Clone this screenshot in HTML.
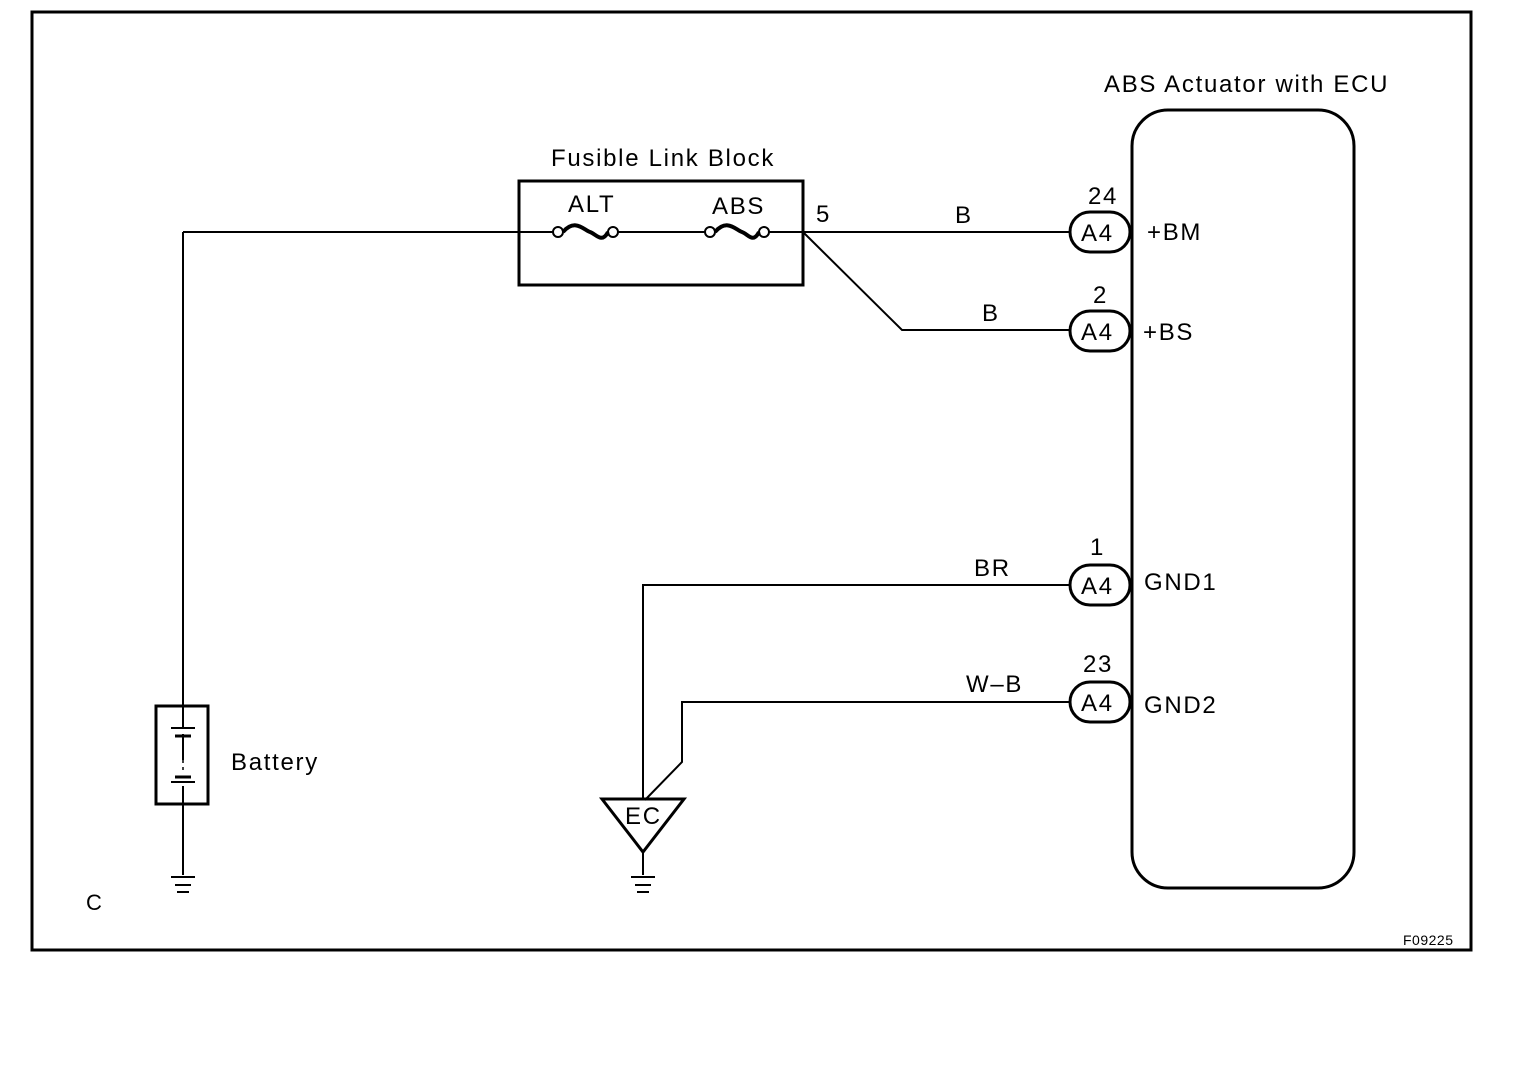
<!DOCTYPE html>
<html><head><style>
html,body{margin:0;padding:0;background:#fff;}
svg{display:block;}
text{font-family:"Liberation Sans",sans-serif;fill:#000;letter-spacing:1.7px;}
</style></head><body>
<svg width="1520" height="1072" viewBox="0 0 1520 1072" xmlns="http://www.w3.org/2000/svg">
<g fill="none" stroke="#000">
<rect x="32" y="12" width="1439" height="938" stroke-width="3"/>
<rect x="1132" y="110" width="222" height="778" rx="36" stroke-width="3"/>
<rect x="519" y="181" width="284" height="104" stroke-width="3"/>
<path d="M183 232 H555 M617 232 H706 M766 232 H1070" stroke-width="2"/>
<path d="M803 232 L902 330 H1070" stroke-width="2"/>
<path d="M183 232 V708" stroke-width="2"/>
<circle cx="558" cy="232" r="5" fill="#fff" stroke-width="2"/>
<circle cx="613" cy="232" r="5" fill="#fff" stroke-width="2"/>
<path d="M563 232 C575 218,584 230,590 232 S602 244,608 232" stroke-width="4"/>
<circle cx="710" cy="232" r="5" fill="#fff" stroke-width="2"/>
<circle cx="764" cy="232" r="5" fill="#fff" stroke-width="2"/>
<path d="M715 232 C727 218,736 230,742 232 S753 244,759 232" stroke-width="4"/>
<g stroke-width="3">
<rect x="1070" y="212" width="60" height="40" rx="20"/>
<rect x="1070" y="311" width="60" height="40" rx="20"/>
<rect x="1070" y="565" width="60" height="40" rx="20"/>
<rect x="1070" y="682" width="60" height="40" rx="20"/>
</g>
<path d="M1070 585 H643 V800" stroke-width="2"/>
<path d="M1070 702 H682 V762 L645 800" stroke-width="2"/>
<path d="M602 799 H684 L643 852 Z" stroke-width="3"/>
<path d="M643 852 V875" stroke-width="2"/>
<path d="M631 877 H655 M635 885 H651 M637 892 H649" stroke-width="2"/>
<rect x="156" y="706" width="52" height="98" stroke-width="3"/>
<path d="M183 706 V727 M171 728 H195 M183 734 V760 M171 782 H195 M183 786 V875" stroke-width="2"/>
<path d="M175 736 H191 M175 777 H191" stroke-width="3"/>
<path d="M183 740 V770" stroke-width="1.5" stroke-dasharray="5 4"/>
<path d="M171 877 H195 M175 885 H191 M177 892 H189" stroke-width="2"/>
</g>
<g font-size="24">
<text x="1104" y="92">ABS Actuator with ECU</text>
<text x="551" y="166">Fusible Link Block</text>
<text x="568" y="212">ALT</text>
<text x="712" y="214">ABS</text>
<text x="816" y="222">5</text>
<text x="955" y="223">B</text>
<text x="982" y="321">B</text>
<text x="1088" y="204">24</text>
<text x="1093" y="303">2</text>
<text x="1090" y="555">1</text>
<text x="1083" y="672">23</text>
<text x="1081" y="241">A4</text>
<text x="1081" y="340">A4</text>
<text x="1081" y="594">A4</text>
<text x="1081" y="711">A4</text>
<text x="1147" y="240">+BM</text>
<text x="1143" y="340">+BS</text>
<text x="1144" y="590">GND1</text>
<text x="1144" y="713">GND2</text>
<text x="974" y="576">BR</text>
<text x="966" y="692">W–B</text>
<text x="231" y="770">Battery</text>
<text x="625" y="824">EC</text>
<text x="86" y="910" font-size="22">C</text>
<text x="1403" y="945" font-size="14" style="letter-spacing:0.5px">F09225</text>
</g>
</svg>
</body></html>
